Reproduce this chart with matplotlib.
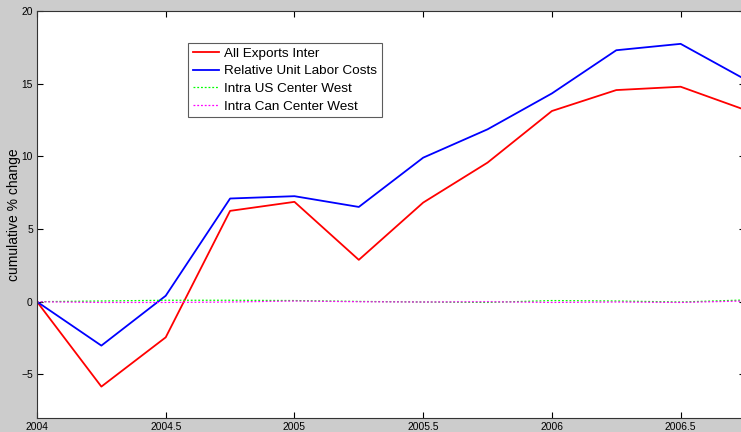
import numpy as np
import matplotlib.pyplot as plt

plt.rcParams['font.family'] = ['Liberation Sans', 'DejaVu Sans']

# quarterly observations, cumulative % change since 2004
quarters = [2004.0, 2004.25, 2004.5, 2004.75, 2005.0, 2005.25,
            2005.5, 2005.75, 2006.0, 2006.25, 2006.5, 2006.75]
all_exports_inter = [0.0, -5.84, -2.45, 6.25, 6.87, 2.88,
                     6.82, 9.57, 13.12, 14.56, 14.79, 13.2]
rel_unit_labor_costs = [0.0, -3.02, 0.41, 7.1, 7.26, 6.52,
                        9.91, 11.86, 14.33, 17.3, 17.74, 15.3]
intra_us_center_west = [0.0, 0.05, 0.1, 0.1, 0.08, 0.02,
                        -0.02, -0.05, 0.08, 0.05, -0.02, 0.12]
intra_can_center_west = [0.0, -0.05, -0.05, -0.02, 0.05, 0.0,
                         -0.02, 0.0, -0.05, -0.02, -0.05, 0.05]

fig = plt.figure(figsize=(7.41, 4.32), dpi=100)
fig.patch.set_facecolor('#cccccc')
ax = fig.add_axes([37/741, 14/432, 708/741, 407/432])

ax.plot(quarters, all_exports_inter, color='#ff0000', lw=1.3, label='All Exports Inter')
ax.plot(quarters, rel_unit_labor_costs, color='#0000ff', lw=1.3, label='Relative Unit Labor Costs')
ax.plot(quarters, intra_us_center_west, color='#00ff00', lw=0.9, ls=(0, (1.5, 1.5)),
        label='Intra US Center West')
ax.plot(quarters, intra_can_center_west, color='#ff00ff', lw=0.9, ls=(0, (1.5, 1.5)),
        label='Intra Can Center West')

ax.set_xlim(2004, 2006.75)
ax.set_ylim(-8, 20)
ax.set_xticks([2004, 2004.5, 2005, 2005.5, 2006, 2006.5])
ax.set_xticklabels(['2004', '2004.5', '2005', '2005.5', '2006', '2006.5'])
ax.set_yticks([-5, 0, 5, 10, 15, 20])
ax.tick_params(direction='in', length=4.5, width=0.8, labelsize=7.4,
               top=True, right=True, pad=3)
for s in ax.spines.values():
    s.set_linewidth(0.8)
    s.set_color('#333333')
ax.set_ylabel('cumulative % change', fontsize=10, labelpad=0)

leg = ax.legend(loc='upper left', bbox_to_anchor=(0.213, 0.922), fontsize=9.7,
                frameon=True, fancybox=False, edgecolor='#333333',
                handlelength=2.0, handletextpad=0.35, labelspacing=0.38,
                borderpad=0.35, borderaxespad=0)
leg.get_frame().set_linewidth(0.8)

fig.savefig('out.png', dpi=100, facecolor=fig.get_facecolor())
